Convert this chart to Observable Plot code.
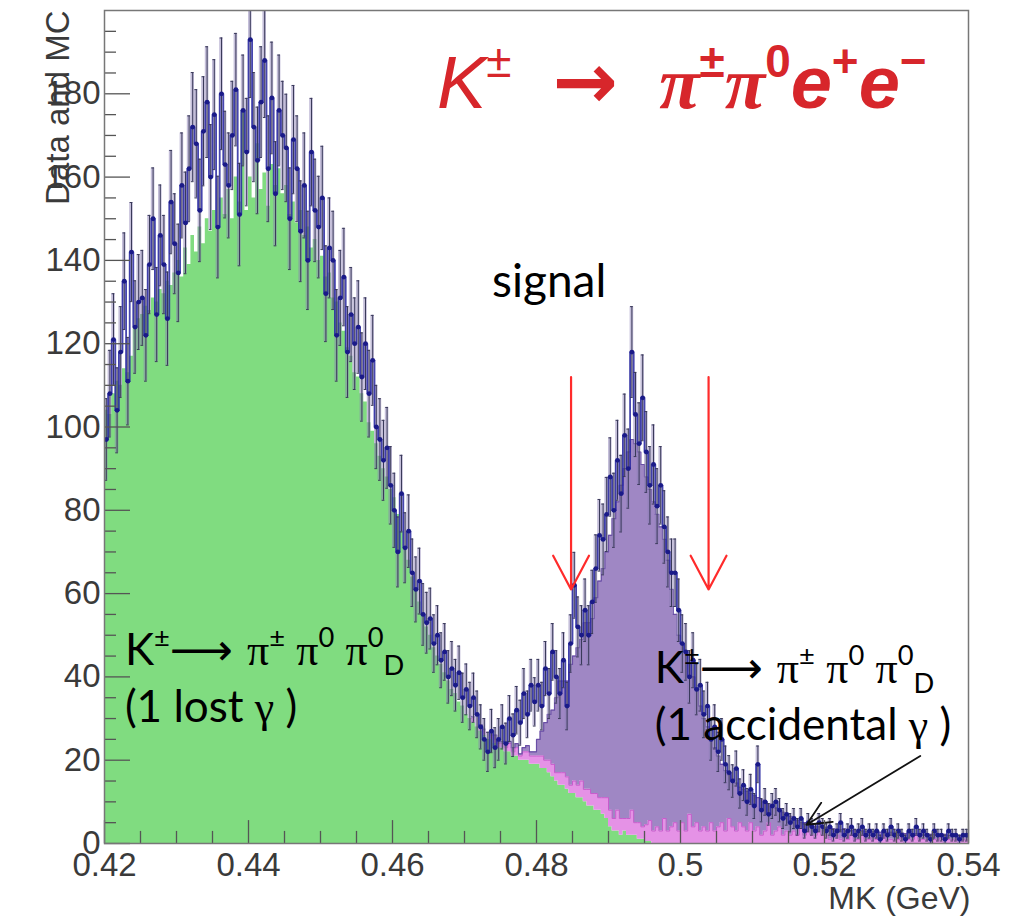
<!DOCTYPE html>
<html><head><meta charset="utf-8">
<script src="https://cdn.jsdelivr.net/npm/d3@7"></script>
<script src="https://cdn.jsdelivr.net/npm/@observablehq/plot@0.6"></script>
<style>
body{margin:0;background:#fff;}
#wrap{position:relative;width:1015px;height:920px;}
</style></head><body><div id="wrap"></div>
<script>
// ---- histogram binning ----
const binStart = 0.42, binWidth = 0.0005;

// MC: K -> pi pi0 pi0D (1 lost gamma)
const lostGamma = [
104,103,108,111,110,114,113,117,124,126,
127,129,128,131,130,133,132,135,134,137,
140,136,143,139,146,142,148,144,150,147,
152,148,155,151,157,150,160,154,176,152,
160,155,168,157,161,153,163,158,162,156,
158,151,154,149,152,146,148,143,145,140,
141,136,137,131,130,125,123,119,117,113,
112,108,106,101,99,96,93,90,88,85,
83,79,75,71,68,64,61,58,55,52,
50,47,45,43,41,39,37,36,34,33,
31,30,29,28,27,26,25,25,24,23,
23,22,22,21,21,20,20,20,19,19,
19,18,18,17,16,15,14,14,13,12,
12,11,11,10,9,9,8,8,7,6,
4,3,3,2,3,2,2,2,1,1,
0.5,0.5,0,0,0,0,0,0,0,0,
0,0,0,0,0,0,0,0,0,0, 0,0,0,0,0,0,0,0,0,0,
0,0,0,0,0,0,0,0,0,0, 0,0,0,0,0,0,0,0,0,0,
0,0,0,0,0,0,0,0,0,0, 0,0,0,0,0,0,0,0,0,0,
0,0,0,0,0,0,0,0,0,0, 0,0,0,0,0,0,0,0,0,0];

// MC: K -> pi pi0 pi0D (1 accidental gamma)
const accidentalGamma = [
0,0,0,0,0,0,0,0,0,0, 0,0,0,0,0,0,0,0,0,0,
0,0,0,0,0,0,0,0,0,0, 0,0,0,0,0,0,0,0,0,0,
0,0,0,0,0,0,0,0,0,0, 0,0,0,0,0,0,0,0,0,0,
0,0,0,0,0,0,0,0,0,0, 0,0,0,0,0,0,0,0,0,0,
0,0,0,0,0,0,0,0,0,0, 0,0,0,0,0,0,0,0,0,0,
0,0,1,0,1,1,0,1,1,1,
1,1,2,1,2,1,2,2,2,2,
2,3,2,3,3,2,3,3,3,2,
3,3,4,3,4,3,4,3,4,5,
4,3,5,4,3,4,6,3,4,3,
4,5,3,4,3,6,3,4,5,3,
5,3,7,4,5,3,4,3,5,3,
4,5,3,6,4,3,5,4,3,5,
3,4,2,3,5,2,3,4,2,3,
2,3,2,4,2,3,2,2,3,2,
2,1,2,2,1,2,1,2,1,1,
2,1,1,2,1,1,2,1,1,1,
1,2,1,1,1,2,1,1,1,1,
1,1,2,1,1,1,1,1,1,1];

// MC: signal K -> pi pi0 e+ e-
const signalMC = [
0,0,0,0,0,0,0,0,0,0, 0,0,0,0,0,0,0,0,0,0,
0,0,0,0,0,0,0,0,0,0, 0,0,0,0,0,0,0,0,0,0,
0,0,0,0,0,0,0,0,0,0, 0,0,0,0,0,0,0,0,0,0,
0,0,0,0,0,0,0,0,0,0, 0,0,0,0,0,0,0,0,0,0,
0,0,0,0,0,0,0,0,0,0, 0,0,0,0,0,0,0,0,0,0,
0,0,0.5,0,0.5,0.5,0,0.5,1,0.5,
0.5,1,0.5,1,1,0.5,1,1.5,1,1,
4,6,9,11,13,18,22,22,23,29,
30,33,34,40,40,42,47,52,55,59,
66,72,74,80,84,88,89,91,89,87,
83.5,79.5,79,75,73,67,65,57,50,47,
43,42.5,36,36,32,30,26,25,20,20,
17,14,14.5,10.5,11.5,11.5,8.5,9,9.5,7,
8.5,7,8.5,7,4.5,7,5.5,4,5.5,4,
4.5,3,3.5,1,3,1.5,2.5,2,1,2,
1.8,2.6,1.5,1.4,2.3,1.5,2.2,1.1,2.3,2.0,
1.0,1.9,2.1,0.8,1.9,1.7,0.8,1.6,1.7,1.5,
1.6,0.5,1.4,1.6,1.3,0.4,1.3,1.2,1.4,1.2,
1.2,1.1,0,1.2,0.9,1.0,0.9,0.8,1.0,0.7];

// Data counts and errors
const dataCounts = [
97,108,121,104,118,135,111,142,124,130,
131,122,139,150,127,146,139,126,154,144,
137,158,149,162,172,168,152,171,178,160,
175,148,180,163,158,170,181,151,176,166,
193,172,164,178,188,162,179,156,176,170,
167,150,169,162,147,158,140,166,152,148,
155,132,143,140,122,131,136,118,127,120,
124,112,120,108,116,100,97,92,95,86,
80,70,84,71,75,65,61,63,55,53,
54,48,50,44,46,40,42,38,41,35,
37,33,35,31,28,25,22,27,23,25,
28,24,30,26,32,29,36,31,38,34,
38,33,42,36,46,40,36,44,33,48,
62,52,50,56,50,58,66,74,73,79,
88,80,92,84,98,90,118,103,96,107,
94,86,91,81,86,76,70,65,65,56,
48,46,40,44,37,38,31,33,25,28,
22,25,19,17,15,18,12,14,10,13,
9,19,8,10,7,9,10,8,6,7,
5,6,4,6,3,5,4,3,5,4,
3,4,2,3,5,2,3,4,2,3,
4,2,3,2,3,1,3,2,4,2,
3,2,1,3,2,4,2,3,2,1,
3,2,2,1,3,2,2,1,2,2];
const dataErr = [
9.8,10.4,11,10.2,10.9,11.6,10.5,11.9,11.1,11.4,
11.4,11,11.8,12.2,11.3,12.1,11.8,11.2,12.4,12,
11.7,12.6,12.2,12.7,13.1,13,12.3,13.1,13.3,12.6,
13.2,12.2,13.4,12.8,12.6,13,13.5,12.3,13.3,12.9,
13.9,13.1,12.8,13.3,13.7,12.7,13.4,12.5,13.3,13,
12.9,12.2,13,12.7,12.1,12.6,11.8,12.9,12.3,12.2,
12.4,11.5,12,11.8,11,11.4,11.7,10.9,11.3,11,
11.1,10.6,11,10.4,10.8,10,9.8,9.6,9.7,9.3,
8.9,8.4,9.2,8.4,8.7,8.1,7.8,7.9,7.4,7.3,
7.3,6.9,7.1,6.6,6.8,6.3,6.5,6.2,6.4,5.9,
6.1,5.7,5.9,5.6,5.3,5,4.7,5.2,4.8,5,
5.3,4.9,5.5,5.1,5.7,5.4,6,5.6,6.2,5.8,
6.2,5.7,6.5,6,6.8,6.3,6,6.6,5.7,6.9,
7.9,7.2,7.1,7.5,7.1,7.6,8.1,8.6,8.5,8.9,
9.4,8.9,9.6,9.2,9.9,9.5,10.9,10.1,9.8,10.3,
9.7,9.3,9.5,9,9.3,8.7,8.4,8.1,8.1,7.5,
6.9,6.8,6.3,6.6,6.1,6.2,5.6,5.7,5,5.3,
4.7,5,4.4,4.1,3.9,4.2,3.5,3.7,3.2,3.6,
3,4.4,2.8,3.2,2.6,3,3.2,2.8,2.4,2.6,
2.2,2.4,2,2.4,1.7,2.2,2,1.7,2.2,2,
1.7,2,1.4,1.7,2.2,1.4,1.7,2,1.4,1.7,
2,1.4,1.7,1.4,1.7,1,1.7,1.4,2,1.4,
1.7,1.4,1,1.7,1.4,2,1.4,1.7,1.4,1,
1.7,1.4,1.4,1,1.7,1.4,1.4,1,1.4,1.4];

// ---- axes ----
const xTicks = [0.42,0.44,0.46,0.48,0.50,0.52,0.54];
const xTickLabels = ["0.42","0.44","0.46","0.48","0.5","0.52","0.54"];
const xMinorTicks = [0.425,0.43,0.435,0.445,0.45,0.455,0.465,0.47,0.475,0.485,0.49,0.495,0.505,0.51,0.515,0.525,0.53,0.535];
const yTicks = [0,20,40,60,80,100,120,140,160,180];
const yMinorTicks = [5,10,15,25,30,35,45,50,55,65,70,75,85,90,95,105,110,115,125,130,135,145,150,155,165,170,175,185,190,195];

// ---- annotations (data coordinates) ----
const cutArrows = [{x: 0.4848, top: 112, tip: 61}, {x: 0.5039, top: 112, tip: 61}];
const pointerArrow = [{x1: 0.5333, y1: 21, x2: 0.5175, y2: 4.5}];

// ---- build ----
const nBins = lostGamma.length;
const edges = d3.range(nBins + 1).map(i => binStart + i * binWidth);
const stackRows = edges.map((x, i) => {
  const j = Math.min(i, nBins - 1);
  const g = lostGamma[j], p = accidentalGamma[j], s = signalMC[j];
  return {x, g, gp: g + p, gps: g + p + s, p, s};
});
const dataRows = dataCounts.map((n, i) => ({
  xc: binStart + (i + 0.5) * binWidth, x0: edges[i], x1: edges[i + 1],
  n, lo: Math.max(0, n - dataErr[i]), hi: n + dataErr[i]
}));
const dataStep = edges.map((x, i) => ({x, y: dataCounts[Math.min(i, nBins - 1)]}));

const GREEN = "#80dc80", PINK = "#e592e6", PURPLE = "#9f87c4";
const capHalf = binWidth * 0.38;

const chart = Plot.plot({
  width: 1015, height: 920,
  marginLeft: 104, marginRight: 47, marginTop: 10, marginBottom: 77,
  style: {fontFamily: "'Liberation Sans', Arial, sans-serif", background: "#fff"},
  x: {domain: [0.42, 0.54]},
  y: {domain: [0, 200]},
  marks: [
    Plot.areaY(stackRows, {x: "x", y1: 0, y2: "g", curve: "step-after", fill: GREEN}),
    Plot.areaY(stackRows, {x: "x", y1: "g", y2: "gp", curve: "step-after", fill: PINK}),
    Plot.areaY(stackRows, {x: "x", y1: "gp", y2: "gps", curve: "step-after", fill: PURPLE}),
    Plot.lineY(stackRows, {x: "x", y: d => d.p > 0 ? d.gp : NaN, curve: "step-after", stroke: "#c85ccc", strokeWidth: 1}),
    Plot.lineY(stackRows, {x: "x", y: d => d.s > 0 ? d.gps : NaN, curve: "step-after", stroke: "#6a4fa6", strokeWidth: 1.2}),
    // data error bands & bars
    Plot.rectY(dataRows, {x1: "x0", x2: "x1", y1: "lo", y2: "hi", fill: "#8a7db4", fillOpacity: 0.5, clip: true}),
    Plot.lineY(dataStep, {x: "x", y: "y", curve: "step-after", stroke: "#2626a0", strokeWidth: 1.8, strokeOpacity: 0.85, clip: true}),
    Plot.ruleX(dataRows, {x: "xc", y1: "lo", y2: "hi", stroke: "#3a3a5a", strokeWidth: 1, clip: true}),
    Plot.ruleY(dataRows, {x1: d => d.xc - capHalf, x2: d => d.xc + capHalf, y: "hi", stroke: "#3a3a5a", strokeWidth: 1, clip: true}),
    Plot.ruleY(dataRows, {x1: d => d.xc - capHalf, x2: d => d.xc + capHalf, y: "lo", stroke: "#3a3a5a", strokeWidth: 1, clip: true}),
    Plot.dot(dataRows, {x: "xc", y: "n", r: 2.4, fill: "#1a1a88", clip: true}),
    // cut arrows
    Plot.arrow(cutArrows, {x1: "x", x2: "x", y1: "top", y2: "tip", stroke: "#ff2b2b", strokeWidth: 2.2, headLength: 26, headAngle: 56}),
    Plot.arrow(pointerArrow, {x1: "x1", y1: "y1", x2: "x2", y2: "y2", stroke: "#111", strokeWidth: 1.8, headLength: 22, headAngle: 50}),
    // ticks inside frame
    Plot.ruleX(xTicks, {x: d => d, y1: 0, y2: 5.5, stroke: "#555", strokeWidth: 1.3}),
    Plot.ruleX(xMinorTicks, {x: d => d, y1: 0, y2: 2.9, stroke: "#555", strokeWidth: 1.3}),
    Plot.ruleY(yTicks, {y: d => d, x1: 0.42, x2: 0.42 + 26 / 7200, stroke: "#555", strokeWidth: 1.3}),
    Plot.ruleY(yMinorTicks, {y: d => d, x1: 0.42, x2: 0.42 + 12 / 7200, stroke: "#555", strokeWidth: 1.3}),
    Plot.frame({stroke: "#777", strokeWidth: 1.5}),
    Plot.axisX(xTicks, {tickSize: 0, tickPadding: 9, tickFormat: (d, i) => xTickLabels[i], fontSize: 33, fill: "#3a3a3a", label: null}),
    Plot.axisY(yTicks, {tickSize: 0, tickPadding: 4, fontSize: 33, fill: "#3a3a3a", label: null}),
    Plot.text(["Data and MC"], {frameAnchor: "top-left", rotate: -90, textAnchor: "end", dx: -59, dy: 0, fontSize: 33, fill: "#3a3a3a"}),
    Plot.text(["MK (GeV)"], {frameAnchor: "bottom-right", textAnchor: "end", dx: 2, dy: 65, fontSize: 32, fill: "#3a3a3a"})
  ]
});
document.getElementById("wrap").appendChild(chart);

// ---- rich text annotations (positions in data coordinates) ----
const sx = chart.scale("x"), sy = chart.scale("y");
const SERIF = "'Liberation Serif', 'DejaVu Serif', serif";
const SANS = "'Liberation Sans', Arial, sans-serif";
const CAL = "Lato, 'Open Sans', sans-serif";
function rich(xv, yv, size, fill, family, parts) {
  const t = d3.select(chart).append("text")
    .attr("x", sx.apply(xv)).attr("y", sy.apply(yv))
    .attr("text-anchor", "start")
    .attr("font-size", size).attr("fill", fill).attr("font-family", family);
  let shift = 0;
  for (const p of parts) {
    const target = p.sup ? -0.42 * size : p.sub ? 0.22 * size : 0;
    const ts = t.append("tspan").text(p.t).attr("dy", target - shift);
    shift = target;
    if (p.sup || p.sub) ts.attr("font-size", size * 0.62);
    if (p.size) ts.attr("font-size", p.size);
    if (p.family) ts.attr("font-family", p.family);
    if (p.italic) ts.attr("font-style", "italic");
    if (p.bold) ts.attr("font-weight", "bold");
  }
  return t;
}
const titleParts = [
  {t: "K", italic: true}, {t: "±", sup: true}, {t: "  "},
  {t: "→", bold: true, family: "'DejaVu Sans', sans-serif", size: 78}, {t: "  "},
  {t: "π", bold: true, italic: true, family: SERIF}, {t: "±", sup: true, bold: true},
  {t: "π", bold: true, italic: true, family: SERIF}, {t: "0", sup: true, bold: true},
  {t: "e", bold: true, italic: true}, {t: "+", sup: true, bold: true},
  {t: "e", bold: true, italic: true}, {t: "−", sup: true, bold: true}
];
rich(0.46625, 176.5, 74, "#d7262b", SANS, titleParts).attr("xml:space", "preserve").style("white-space", "pre");
rich(0.4739, 131.1, 46, "#000", CAL, [{t: "signal"}]);
const decayParts = [
  {t: "K"}, {t: "±", sup: true}, {t: "⟶ ", family: "'DejaVu Sans', sans-serif"},
  {t: "π", family: SERIF}, {t: "±", sup: true}, {t: " "},
  {t: "π", family: SERIF}, {t: "0", sup: true}, {t: " "},
  {t: "π", family: SERIF}, {t: "0", sup: true}, {t: "D", sub: true}
];
rich(0.4229, 42.7, 44, "#000", CAL, decayParts);
rich(0.4229, 29.1, 44, "#000", CAL, [{t: "(1 lost "}, {t: "γ", family: SERIF}, {t: " )"}]);
rich(0.4965, 38.4, 44, "#000", CAL, decayParts);
rich(0.4965, 24.7, 44, "#000", CAL, [{t: "(1 accidental "}, {t: "γ", family: SERIF}, {t: " )"}]);
</script></body></html>
